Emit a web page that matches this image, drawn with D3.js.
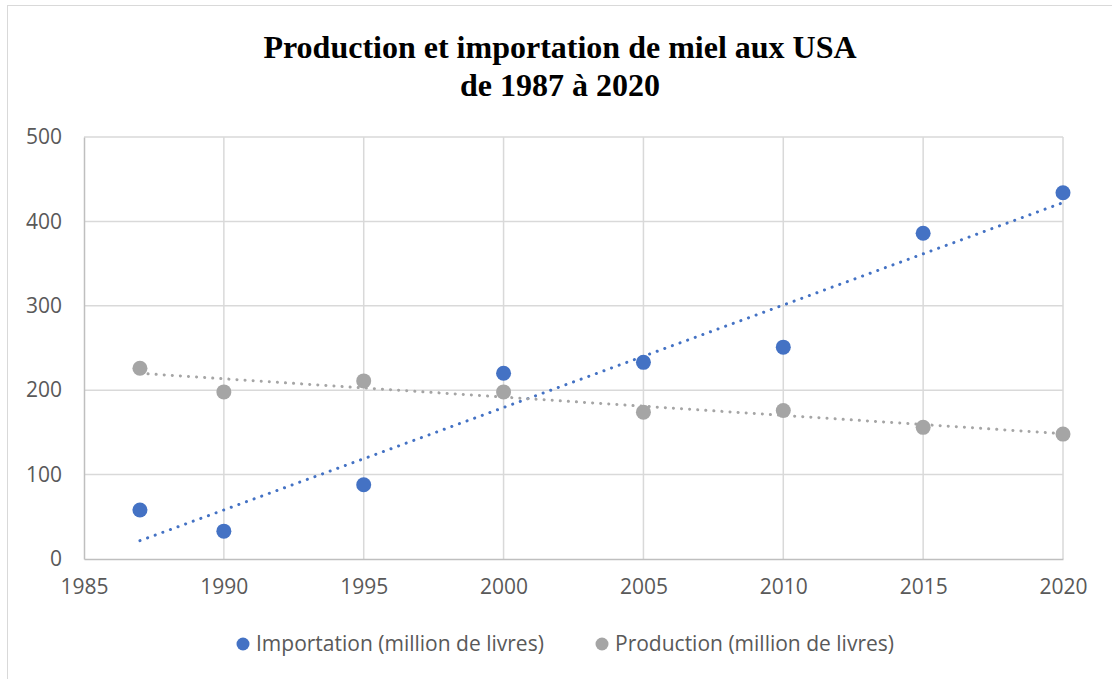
<!DOCTYPE html>
<html>
<head>
<meta charset="utf-8">
<script src="https://cdn.jsdelivr.net/npm/d3@7"></script>
<style>
  body { margin: 0; background: #fff; }
  svg { display: block; }
</style>
</head>
<body>
<svg></svg>
<script>
let width = 1112, height = 679;

// data
const years = [1987, 1990, 1995, 2000, 2005, 2010, 2015, 2020];
const importation = [58, 33, 88, 220, 233, 251, 386, 434];
const production = [226, 198, 211, 198, 174, 176, 156, 148];
const xTicks = [1985, 1990, 1995, 2000, 2005, 2010, 2015, 2020];
const yTicks = [0, 100, 200, 300, 400, 500];
const seriesNames = ["Importation (million de livres)", "Production (million de livres)"];
const titleLines = ["Production et importation de miel aux USA", "de 1987 à 2020"];

const colors = ["#4472C4", "#A5A5A5"];
const labelFont = "'Open Sans', 'Noto Sans', sans-serif";

let svg = d3.select("svg")
    .attr("width", width)
    .attr("height", height);

// chart border
svg.append("rect")
    .attr("x", 7.5).attr("y", 5.5)
    .attr("width", 1200).attr("height", 800)
    .attr("fill", "none")
    .attr("stroke", "#D9D9D9")
    .attr("stroke-width", 1);

let margin = {left: 84, right: 49, top: 137, bottom: 120};

let x = d3.scaleLinear()
    .domain([1985, 2020])
    .range([margin.left, width - margin.right]);

let y = d3.scaleLinear()
    .domain([0, 500])
    .range([height - margin.bottom, margin.top]);

// title
svg.append("text")
    .attr("x", 560)
    .attr("y", 58)
    .attr("text-anchor", "middle")
    .style("font-family", "'Liberation Serif', 'Times New Roman', serif")
    .style("font-weight", "bold")
    .style("font-size", "32px")
    .attr("fill", "#000")
    .selectAll("tspan")
    .data(titleLines)
    .enter()
    .append("tspan")
    .attr("x", 560)
    .attr("dy", (d, i) => i == 0 ? 0 : 38)
    .text(d => d);

// gridlines
svg.append("g")
    .selectAll("line")
    .data(yTicks.slice(1))
    .enter()
    .append("line")
    .attr("x1", x(1985)).attr("x2", x(2020))
    .attr("y1", d => y(d)).attr("y2", d => y(d))
    .attr("stroke", "#D9D9D9")
    .attr("stroke-width", 1.5);

svg.append("g")
    .selectAll("line")
    .data(xTicks.slice(1))
    .enter()
    .append("line")
    .attr("x1", d => x(d)).attr("x2", d => x(d))
    .attr("y1", y(0)).attr("y2", y(500))
    .attr("stroke", "#D9D9D9")
    .attr("stroke-width", 1.5);

// axes
let xAxis = svg.append("g")
    .attr("transform", "translate(0," + y(0) + ")")
    .call(d3.axisBottom(x).tickValues(xTicks).tickFormat(d3.format("d")).tickSize(0).tickPadding(20));

let yAxis = svg.append("g")
    .attr("transform", "translate(" + x(1985) + ",0)")
    .call(d3.axisLeft(y).tickValues(yTicks).tickSize(0).tickPadding(22));

[xAxis, yAxis].forEach(a => {
    a.select(".domain").attr("stroke", "#BFBFBF").attr("stroke-width", 1.5);
    a.selectAll("text")
        .style("font-family", labelFont)
        .style("font-size", "21px")
        .attr("fill", "#595959");
});

// trend lines (least squares, like the spreadsheet)
function linearFit(xs, ys) {
    let mx = d3.mean(xs), my = d3.mean(ys);
    let sxy = d3.sum(xs, (v, i) => (v - mx) * (ys[i] - my));
    let sxx = d3.sum(xs, v => (v - mx) * (v - mx));
    let slope = sxy / sxx;
    return v => my + slope * (v - mx);
}

let series = [importation, production];

series.forEach((vals, k) => {
    let fit = linearFit(years, vals);
    let ends = [years[0], years[years.length - 1]];
    svg.append("path")
        .datum(ends)
        .attr("fill", "none")
        .attr("stroke", colors[k])
        .attr("stroke-width", 3)
        .attr("stroke-linecap", "round")
        .attr("stroke-dasharray", "0.1 8")
        .attr("d", d3.line().x(d => x(d)).y(d => y(fit(d))));
});

// points
series.forEach((vals, k) => {
    svg.append("g")
        .selectAll("circle")
        .data(years)
        .enter()
        .append("circle")
        .attr("cx", d => x(d))
        .attr("cy", (d, i) => y(vals[i]))
        .attr("r", 7.5)
        .attr("fill", colors[k]);
});

// legend
let legendX = [243, 602];
let legend = svg.append("g")
    .selectAll("g")
    .data(seriesNames)
    .enter()
    .append("g")
    .attr("transform", (d, i) => "translate(" + legendX[i] + ",644)");

legend.append("circle")
    .attr("r", 6.5)
    .attr("fill", (d, i) => colors[i]);

legend.append("text")
    .attr("x", 13)
    .attr("y", 7)
    .style("font-family", labelFont)
    .style("font-size", "21px")
    .attr("fill", "#595959")
    .text(d => d);
</script>
</body>
</html>
